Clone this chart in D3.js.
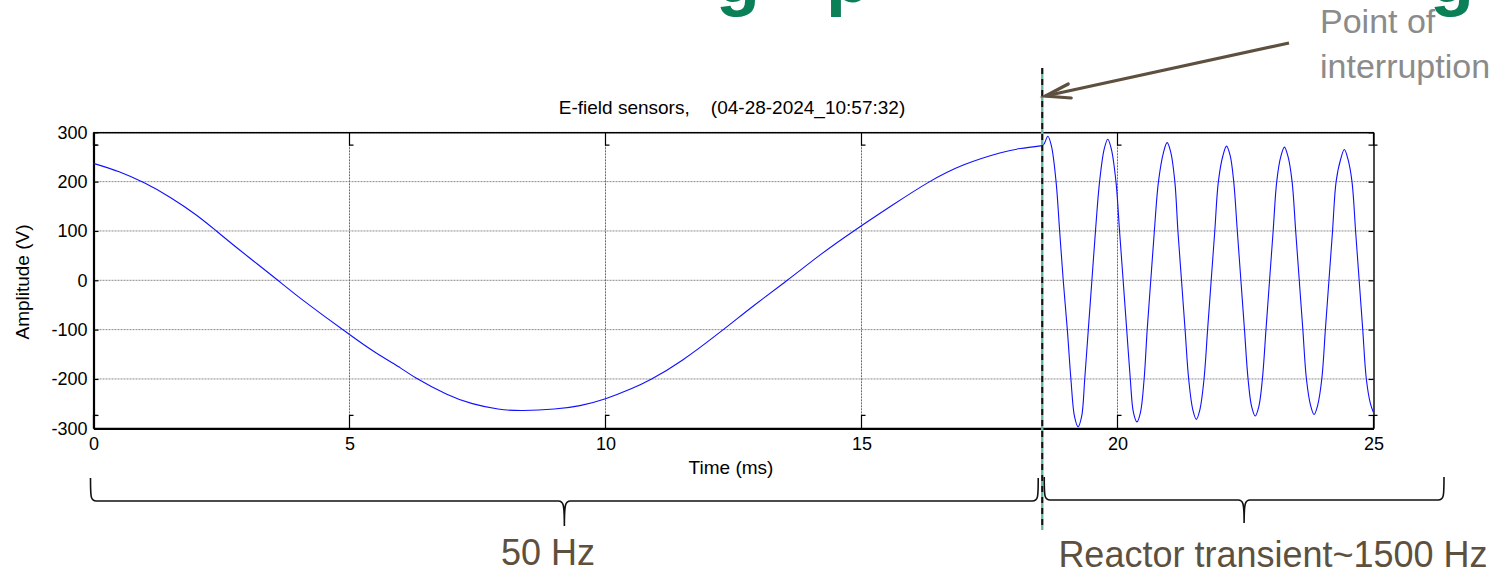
<!DOCTYPE html>
<html>
<head>
<meta charset="utf-8">
<script src="https://cdn.jsdelivr.net/npm/d3@7"></script>
<style>
  body { margin: 0; background: #fff; }
  text { font-family: "Liberation Sans", Arial, Helvetica, sans-serif; }
</style>
</head>
<body>
<div id="chart"></div>
<script>
// 50 Hz part, before the breaker opens (ms, V)
var time50 = [0, 0.5, 1.0, 1.5, 2.0, 2.4, 2.8, 3.2, 3.6, 4.0, 4.5, 5.0, 5.5, 6.0, 6.3, 6.9, 7.4, 7.9, 8.4, 9.0,
              9.5, 10.0, 10.5, 10.9, 11.5, 12.3, 12.9, 13.55, 14.2, 14.85, 15.6, 16.3, 17.0, 17.7, 18.1, 18.53];
var volt50 = [237, 220, 197, 168, 133, 100, 66, 33, 0, -33, -72, -110, -146, -178, -198, -231, -250, -261, -264, -261,
              -254, -240, -220, -200, -162, -100, -51, 0, 52, 100, 152, 198, 234, 258, 267, 273];

// reactor transient after the interruption
var timeTr = [18.53, 18.57, 18.64, 18.71, 18.80, 18.87, 18.94, 19.02, 19.09, 19.16, 19.23, 19.30, 19.36, 19.43, 19.50,
              19.57, 19.65, 19.74, 19.81, 19.88, 19.97, 20.04, 20.11, 20.18, 20.25, 20.31, 20.38, 20.45, 20.52, 20.58,
              20.65, 20.72, 20.80, 20.90, 20.97, 21.04, 21.12, 21.18, 21.25, 21.32, 21.39, 21.47, 21.54, 21.61, 21.69,
              21.76, 21.83, 21.90, 21.97, 22.06, 22.13, 22.20, 22.27, 22.34, 22.41, 22.48, 22.55, 22.62, 22.69, 22.76,
              22.83, 22.90, 22.97, 23.04, 23.11, 23.19, 23.26, 23.33, 23.41, 23.48, 23.55, 23.62, 23.69, 23.77, 23.84,
              23.91, 23.99, 24.06, 24.13, 24.20, 24.27, 24.36, 24.43, 24.50, 24.58, 24.65, 24.72, 24.79, 24.86, 24.94, 25.0];
var voltTr = [273, 277, 292, 272, 200, 100, 0, -100, -200, -276, -297, -276, -200, -100, 0,
              100, 200, 266, 286, 266, 200, 100, 0, -100, -200, -267, -287, -267, -200, -100,
              0, 100, 200, 260, 279, 260, 200, 100, 0, -100, -200, -262, -282, -262, -200,
              -100, 0, 100, 200, 253, 272, 253, 200, 100, 0, -100, -200, -256, -275, -256,
              -200, -100, 0, 100, 200, 251, 270, 251, 200, 100, 0, -100, -200, -253, -272,
              -253, -200, -100, 0, 100, 200, 246, 265, 246, 200, 100, 0, -100, -200, -250, -268];

var interruptMs = 18.53;
var xTicks = [0, 5, 10, 15, 20, 25];
var yTicks = [-300, -200, -100, 0, 100, 200, 300];
var innerLimit = 274;   // limits of the second (hidden) axes, seen as small brackets

var svg = d3.select("#chart").append("svg")
    .attr("width", 1506)
    .attr("height", 580)
    .style("display", "block");

svg.append("rect").attr("width", 1506).attr("height", 580).attr("fill", "#fff");

var x = d3.scaleLinear().domain([0, 25]).range([93.5, 1373.5]);
var y = d3.scaleLinear().domain([-300, 300]).range([428.3, 132.3]);

// cropped slide title (only the descenders are visible)
var green = "#0b7f55";
[["g", 716], ["p", 826], ["g", 1430]].forEach(function(d) {
    svg.append("text").attr("x", d[1]).attr("y", 2)
        .attr("font-size", 72).attr("font-weight", "bold").attr("fill", green)
        .text(d[0]);
});

// grid
svg.append("g").selectAll("line")
    .data(yTicks.filter(function(d) { return d > -300; }))
    .enter().append("line")
    .attr("x1", x(0)).attr("x2", x(25))
    .attr("y1", function(d) { return y(d); }).attr("y2", function(d) { return y(d); })
    .attr("stroke", "#8a8a8a").attr("stroke-width", 1).attr("stroke-dasharray", "2,1");

svg.append("g").selectAll("line")
    .data(xTicks.slice(1, 5))
    .enter().append("line")
    .attr("y1", y(300)).attr("y2", y(-300))
    .attr("x1", function(d) { return x(d); }).attr("x2", function(d) { return x(d); })
    .attr("stroke", "#6a6a6a").attr("stroke-width", 1).attr("stroke-dasharray", "2,1");

// axes
var plain = function(d) { return String(d); };
var leftAx = svg.append("g")
    .attr("transform", "translate(" + x(0) + ",0)")
    .call(d3.axisLeft(y).tickValues(yTicks).tickSizeInner(-5).tickSizeOuter(0).tickPadding(6).tickFormat(plain));
var rightAx = svg.append("g")
    .attr("transform", "translate(" + x(25) + ",0)")
    .call(d3.axisRight(y).tickValues(yTicks).tickSizeInner(-5).tickSizeOuter(0).tickFormat(""));
var bottomAx = svg.append("g")
    .attr("transform", "translate(0," + y(-300) + ")")
    .call(d3.axisBottom(x).tickValues(xTicks).tickSizeInner(0).tickSizeOuter(0).tickPadding(9).tickFormat(plain));
var topAx = svg.append("g")
    .attr("transform", "translate(0," + y(300) + ")")
    .call(d3.axisTop(x).tickValues(xTicks).tickSizeInner(0).tickSizeOuter(0).tickFormat(""));

[leftAx, rightAx, bottomAx, topAx].forEach(function(g) {
    g.selectAll("text").attr("font-size", 18).attr("fill", "#000")
        .style("font-family", '"Liberation Sans", Arial, sans-serif');
    g.selectAll("line").attr("stroke", "#000").attr("stroke-width", 1.2);
});
leftAx.select(".domain").attr("stroke", "#000").attr("stroke-width", 2.2);
bottomAx.select(".domain").attr("stroke", "#000").attr("stroke-width", 2.2);
rightAx.select(".domain").attr("stroke", "#000").attr("stroke-width", 1.4);
topAx.select(".domain").attr("stroke", "#000").attr("stroke-width", 1.4);

// little brackets of the inner axes
var brk = svg.append("g").attr("stroke", "#000").attr("stroke-width", 1.2).attr("fill", "none");
xTicks.forEach(function(t) {
    [[300, innerLimit], [-300, -innerLimit]].forEach(function(p) {
        brk.append("path")
            .attr("d", "M" + x(t) + "," + y(p[0]) + "V" + y(p[1]) + "h4");
    });
});
[innerLimit, -innerLimit].forEach(function(v) {
    brk.append("line").attr("x1", x(0)).attr("x2", x(0) + 5).attr("y1", y(v)).attr("y2", y(v));
    brk.append("line").attr("x1", x(25)).attr("x2", x(25) - 5).attr("y1", y(v)).attr("y2", y(v));
});

// waveform: smooth 50 Hz segment, then the transient
var pts50 = time50.map(function(t, i) { return [t, volt50[i]]; });
var ptsTr = timeTr.map(function(t, i) { return [t, voltTr[i]]; });

var line50 = d3.line()
    .x(function(d) { return x(d[0]); })
    .y(function(d) { return y(d[1]); })
    .curve(d3.curveNatural);
var lineTr = d3.line()
    .x(function(d) { return x(d[0]); })
    .y(function(d) { return y(d[1]); })
    .curve(d3.curveCatmullRom.alpha(0.5));

svg.append("path").datum(pts50).attr("d", line50)
    .attr("fill", "none").attr("stroke", "#1010ff").attr("stroke-width", 1.1);
svg.append("path").datum(ptsTr).attr("d", lineTr)
    .attr("fill", "none").attr("stroke", "#1010ff").attr("stroke-width", 1.1);

// labels
svg.append("text")
    .attr("x", 732).attr("y", 114)
    .attr("text-anchor", "middle").attr("font-size", 19)
    .style("white-space", "pre")
    .text("E-field sensors,    (04-28-2024_10:57:32)");

svg.append("text")
    .attr("x", 731).attr("y", 474)
    .attr("text-anchor", "middle").attr("font-size", 19)
    .text("Time (ms)");

svg.append("text")
    .attr("transform", "translate(29,282) rotate(-90)")
    .attr("text-anchor", "middle").attr("font-size", 19)
    .text("Amplitude (V)");

// interruption marker
var xi = x(interruptMs);
svg.append("line")
    .attr("x1", xi).attr("x2", xi).attr("y1", 68).attr("y2", 530)
    .attr("stroke", "#66b8a4").attr("stroke-width", 2.4);
svg.append("line")
    .attr("x1", xi).attr("x2", xi).attr("y1", 68).attr("y2", 530)
    .attr("stroke", "#111").attr("stroke-width", 2).attr("stroke-dasharray", "6,5");

// arrow + note
var brown = "#5e503e";
var tip = [xi + 3, 96], tail = [1289, 43];
svg.append("line")
    .attr("x1", tail[0]).attr("y1", tail[1]).attr("x2", tip[0]).attr("y2", tip[1])
    .attr("stroke", brown).attr("stroke-width", 3.2);
svg.append("path")
    .attr("d", "M" + (tip[0] + 23) + "," + (tip[1] - 12) + "L" + tip[0] + "," + tip[1] + "L" + (tip[0] + 26) + "," + (tip[1] + 2))
    .attr("fill", "none").attr("stroke", brown).attr("stroke-width", 3.2)
    .attr("stroke-linecap", "round").attr("stroke-linejoin", "miter");

svg.append("text").attr("x", 1320).attr("y", 33)
    .attr("font-size", 34).attr("fill", "#8b8b8b").text("Point of");
svg.append("text").attr("x", 1320).attr("y", 78)
    .attr("font-size", 34).attr("fill", "#8b8b8b").text("interruption");

// braces
function brace(x1, x2, yTop, yMid, yTip) {
    var m = (x1 + x2) / 2;
    return "M" + x1 + "," + yTop +
        "C" + x1 + "," + (yMid - 4) + " " + x1 + "," + yMid + " " + (x1 + 6) + "," + yMid +
        "L" + (m - 6) + "," + yMid +
        "C" + (m - 1) + "," + yMid + " " + m + "," + (yMid + 3) + " " + m + "," + yTip +
        "C" + m + "," + (yMid + 3) + " " + (m + 1) + "," + yMid + " " + (m + 6) + "," + yMid +
        "L" + (x2 - 6) + "," + yMid +
        "C" + x2 + "," + yMid + " " + x2 + "," + (yMid - 4) + " " + x2 + "," + yTop;
}
svg.append("path").attr("d", brace(x(0) - 3, xi - 4, 478, 501, 526))
    .attr("fill", "none").attr("stroke", "#111").attr("stroke-width", 1.6);
svg.append("path").attr("d", brace(xi + 2, 1444, 477, 500, 523))
    .attr("fill", "none").attr("stroke", "#111").attr("stroke-width", 1.6);

svg.append("text").attr("x", 548).attr("y", 565)
    .attr("text-anchor", "middle").attr("font-size", 36).attr("fill", brown).text("50 Hz");
svg.append("text").attr("x", 1273).attr("y", 567)
    .attr("text-anchor", "middle").attr("font-size", 36).attr("fill", brown).text("Reactor transient~1500 Hz");
</script>
</body>
</html>
